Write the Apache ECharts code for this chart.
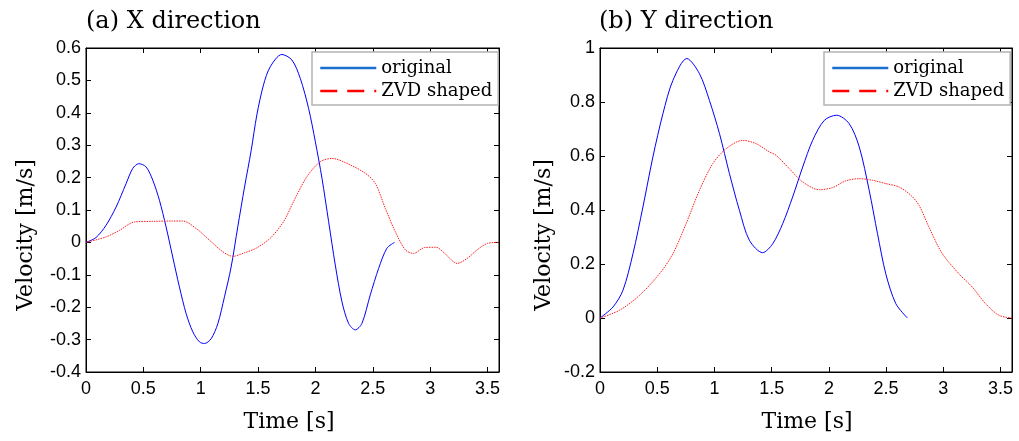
<!DOCTYPE html>
<html><head><meta charset="utf-8">
<script src="https://cdn.jsdelivr.net/npm/echarts@6/dist/echarts.min.js"></script>
<style>html,body{margin:0;padding:0;background:#fff}#c{width:1019px;height:441px}</style>
</head><body><div id="c"></div>
<script>
// (a) X direction
var xOrigT = [0, 0.087, 0.175, 0.262, 0.349, 0.407, 0.46, 0.524, 0.582, 0.64, 0.698, 0.756, 0.814, 0.873, 0.931, 0.989, 1.033, 1.091, 1.149, 1.207, 1.265, 1.323, 1.382, 1.44, 1.489, 1.547, 1.606, 1.707, 1.795, 1.868, 1.94, 1.999, 2.057, 2.115, 2.173, 2.231, 2.289, 2.347, 2.405, 2.478, 2.551, 2.623, 2.69];
var xOrigV = [0, 0.015, 0.053, 0.109, 0.181, 0.228, 0.243, 0.233, 0.192, 0.130, 0.048, -0.045, -0.137, -0.220, -0.276, -0.307, -0.312, -0.297, -0.251, -0.168, -0.076, 0.048, 0.171, 0.284, 0.393, 0.486, 0.542, 0.58, 0.563, 0.506, 0.414, 0.311, 0.198, 0.064, -0.07, -0.183, -0.25, -0.27, -0.25, -0.162, -0.08, -0.018, 0];
var xZvdT = [0, 0.175, 0.291, 0.422, 0.582, 0.756, 0.844, 0.96, 1.076, 1.193, 1.28, 1.382, 1.483, 1.606, 1.722, 1.809, 1.926, 2.042, 2.144, 2.275, 2.435, 2.522, 2.609, 2.696, 2.784, 2.856, 2.95, 3.05, 3.13, 3.235, 3.32, 3.42, 3.5, 3.6];
var xZvdV = [0, 0.017, 0.037, 0.063, 0.065, 0.066, 0.066, 0.043, 0.007, -0.029, -0.043, -0.032, -0.018, 0.013, 0.064, 0.126, 0.203, 0.249, 0.259, 0.244, 0.213, 0.182, 0.105, 0.033, -0.023, -0.034, -0.016, -0.015, -0.035, -0.065, -0.05, -0.02, -0.003, 0];
// (b) Y direction
var yOrigT = [0, 0.114, 0.201, 0.288, 0.375, 0.462, 0.55, 0.637, 0.759, 0.869, 0.956, 1.044, 1.131, 1.218, 1.305, 1.421, 1.509, 1.596, 1.683, 1.771, 1.858, 1.96, 2.067, 2.177, 2.265, 2.352, 2.425, 2.497, 2.585, 2.686];
var yOrigV = [0, 0.041, 0.103, 0.238, 0.411, 0.596, 0.757, 0.88, 0.961, 0.905, 0.806, 0.683, 0.535, 0.399, 0.288, 0.242, 0.275, 0.349, 0.448, 0.559, 0.658, 0.732, 0.751, 0.72, 0.634, 0.473, 0.312, 0.164, 0.053, 0];
var yZvdT = [0, 0.172, 0.346, 0.52, 0.637, 0.753, 0.869, 0.986, 1.102, 1.247, 1.363, 1.48, 1.538, 1.654, 1.771, 1.916, 2.032, 2.148, 2.265, 2.381, 2.497, 2.614, 2.715, 2.788, 2.874, 2.99, 3.136, 3.252, 3.369, 3.485, 3.6];
var yZvdV = [0, 0.029, 0.084, 0.164, 0.238, 0.35, 0.473, 0.572, 0.627, 0.658, 0.646, 0.615, 0.603, 0.553, 0.504, 0.475, 0.483, 0.508, 0.516, 0.51, 0.498, 0.485, 0.455, 0.417, 0.337, 0.239, 0.164, 0.115, 0.053, 0.01, 0];

var titles = ['(a) X direction', '(b) Y direction'];
var seriesNames = ['original', 'ZVD shaped'];
var xLabel = 'Time [s]';
var yLabel = 'Velocity [m/s]';

function zip(a, b) { return a.map(function (t, i) { return [t, b[i]]; }); }

var labelFont = { fontFamily: 'Liberation Sans', fontSize: 18, color: '#000' };
var serif = 'DejaVu Serif';

function xAx(gi, pos, show) {
  return {
    type: 'value', gridIndex: gi, position: pos, min: 0, max: 3.6, interval: 0.5,
    axisLine: { show: true, onZero: false, lineStyle: { color: '#000', width: 1 } },
    axisTick: { show: true, inside: true, length: 5, lineStyle: { color: '#000' } },
    axisLabel: Object.assign({ show: show, margin: 8, showMaxLabel: false }, labelFont),
    splitLine: { show: false }
  };
}
function yAx(gi, pos, show, mn, mx, iv) {
  return {
    type: 'value', gridIndex: gi, position: pos, min: mn, max: mx, interval: iv,
    axisLine: { show: true, onZero: false, lineStyle: { color: '#000', width: 1 } },
    axisTick: { show: true, inside: true, length: 5, lineStyle: { color: '#000' } },
    axisLabel: Object.assign({ show: show, margin: 5 }, labelFont),
    splitLine: { show: false }
  };
}

function lineSeries(name, xi, yi, data, color, dotted) {
  return {
    name: name, type: 'line', xAxisIndex: xi, yAxisIndex: yi, data: data,
    symbol: 'none', showSymbol: false, smooth: 0.3, animation: false,
    lineStyle: { color: color, width: 1, type: dotted ? [1.5, 1] : 'solid' },
    itemStyle: { color: color }
  };
}

function legend(left) {
  return {
    left: left, top: 52, orient: 'vertical', itemWidth: 56, itemHeight: 14, itemGap: 3,
    padding: [6, 6, 4, 7], backgroundColor: '#fff', borderColor: '#b4b4b4', borderWidth: 1.5,
    borderRadius: 0, selectedMode: false,
    textStyle: { fontFamily: serif, fontSize: 18, color: '#000', lineHeight: 20 },
    data: [
      { name: seriesNames[0], itemStyle: { opacity: 0 }, lineStyle: { color: '#1a6fcf', width: 2.5, type: 'solid', opacity: 1 } },
      { name: seriesNames[1], itemStyle: { opacity: 0 }, lineStyle: { color: '#ff0000', width: 2.5, type: [17, 10], opacity: 1 } }
    ]
  };
}

function txt(t, x, y, rot, size) {
  return {
    type: 'text', x: x, y: y, rotation: rot || 0,
    style: { text: t, font: size + 'px "' + serif + '"', fill: '#000', align: 'center', verticalAlign: 'middle' }
  };
}

var chart = echarts.init(document.getElementById('c'), null, { renderer: 'canvas' });
chart.setOption({
  animation: false,
  backgroundColor: '#fff',
  grid: [
    { left: 86, top: 48, width: 413, height: 324, show: true, borderColor: '#000', borderWidth: 1 },
    { left: 600, top: 48, width: 412, height: 324, show: true, borderColor: '#000', borderWidth: 1 }
  ],
  xAxis: [xAx(0, 'bottom', true), xAx(0, 'top', false), xAx(1, 'bottom', true), xAx(1, 'top', false)],
  yAxis: [yAx(0, 'left', true, -0.4, 0.6, 0.1), yAx(0, 'right', false, -0.4, 0.6, 0.1),
          yAx(1, 'left', true, -0.2, 1, 0.2), yAx(1, 'right', false, -0.2, 1, 0.2)],
  legend: [legend(312), legend(824)],
  series: [
    lineSeries(seriesNames[0], 0, 0, zip(xOrigT, xOrigV), '#0000ff', false),
    lineSeries(seriesNames[1], 0, 0, zip(xZvdT, xZvdV), '#ff2020', true),
    lineSeries(seriesNames[0], 2, 2, zip(yOrigT, yOrigV), '#0000ff', false),
    lineSeries(seriesNames[1], 2, 2, zip(yZvdT, yZvdV), '#ff2020', true)
  ],
  graphic: [
    { type: 'text', left: 86, top: 10, style: { text: titles[0], font: '24px "' + serif + '"', fill: '#000' } },
    { type: 'text', left: 599, top: 10, style: { text: titles[1], font: '24px "' + serif + '"', fill: '#000' } },
    txt(xLabel, 289, 422, 0, 22),
    txt(xLabel, 807, 422, 0, 22),
    txt(yLabel, 26, 235, Math.PI / 2, 22),
    txt(yLabel, 544, 235, Math.PI / 2, 22)
  ]
});
</script>
</body></html>
